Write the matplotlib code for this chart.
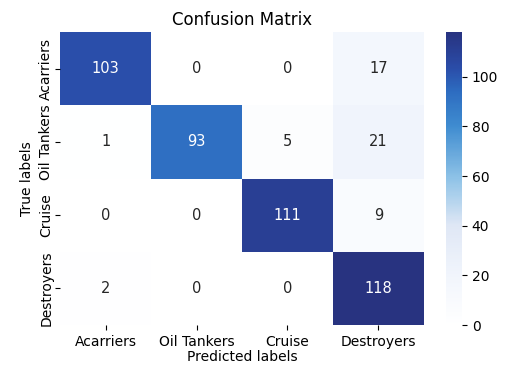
import matplotlib
matplotlib.use('Agg')
import matplotlib.pyplot as plt
from matplotlib.colors import LinearSegmentedColormap
import seaborn as sns
import numpy as np

# class names and confusion counts
labels = ['Acarriers', 'Oil Tankers', 'Cruise', 'Destroyers']
row_acarriers = [103, 0, 0, 17]
row_oil = [1, 93, 5, 21]
row_cruise = [0, 0, 111, 9]
row_destroyers = [2, 0, 0, 118]

cm = np.array([row_acarriers, row_oil, row_cruise, row_destroyers])

# blues that stay pale for low counts (as in the original image)
cmap = LinearSegmentedColormap.from_list('pale_blues', [
    (0.00, '#ffffff'),
    (0.17, '#f1f5fc'),
    (0.34, '#dfe7f5'),
    (0.50, '#8fc3e7'),
    (0.68, '#3f8cd0'),
    (0.80, '#2d6cc0'),
    (0.88, '#2a4ca8'),
    (1.00, '#283380'),
])

fig = plt.figure(figsize=(5.1, 3.74), dpi=100)
ax = fig.add_axes([0.118, 0.131, 0.713, 0.783])
cax = fig.add_axes([0.875, 0.131, 0.031, 0.783])

sns.heatmap(cm, annot=True, fmt='d', cmap=cmap, ax=ax, cbar_ax=cax,
            xticklabels=labels, yticklabels=labels, annot_kws={'fontsize': 10.5})

ax.set_title('Confusion Matrix', fontsize=12, pad=5)
ax.set_xlabel('Predicted labels', fontsize=10, labelpad=1)
ax.set_ylabel('True labels', fontsize=10, labelpad=4)
ax.tick_params(labelsize=10)
ax.tick_params(axis='y', pad=1.5)
plt.setp(ax.get_yticklabels(), rotation=90, va='center')
plt.setp(ax.get_xticklabels(), rotation=0)
cax.tick_params(labelsize=10)

plt.savefig('out.png', dpi=100)
